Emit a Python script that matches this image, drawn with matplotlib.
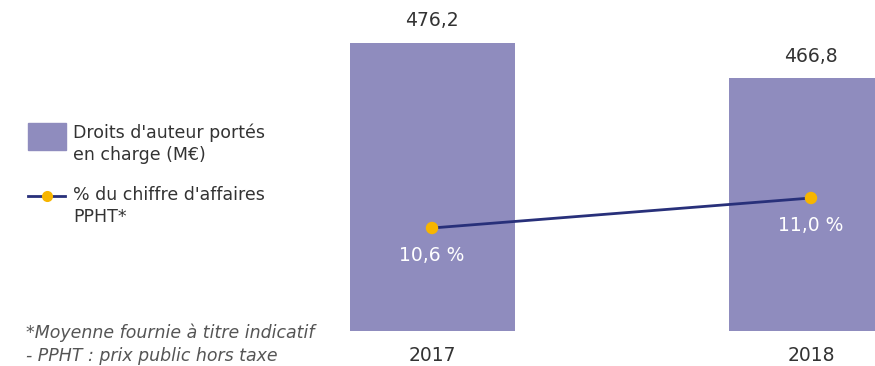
import matplotlib.pyplot as plt
from matplotlib.patches import Rectangle
from matplotlib.lines import Line2D

years = ["2017", "2018"]
droits = [476.2, 466.8]
pct_ca = [10.6, 11.0]
droits_labels = ["476,2", "466,8"]
pct_labels = ["10,6 %", "11,0 %"]

bar_color = "#8F8CBE"
line_color = "#28307A"
dot_color = "#F7B500"
text_color = "#333333"

plt.rcParams["font.family"] = ["DejaVu Sans"]

W, H = 875, 366
fig = plt.figure(figsize=(W / 100, H / 100), dpi=100)
ax = fig.add_axes([0, 0, 1, 1])

# pixel mapping: 2017 centre at x=432, 2018 at x=811
px_per_x = 811 - 432
ax.set_xlim(-432 / px_per_x, (W - 432) / px_per_x)
# bar axis: value 400 at 35 px from bottom, 3.78 px per unit
px_per_y = 3.78
ax.set_ylim(400 - 35 / px_per_y, 400 + (H - 35) / px_per_y)

x = range(len(years))
ax.bar(x, [v - 400 for v in droits], bottom=400, width=165 / px_per_x,
       color=bar_color, zorder=1)
for i, v in enumerate(droits):
    ax.annotate(droits_labels[i], (i, v), xytext=(0, 9), textcoords="offset points",
                ha="center", va="bottom", fontsize=13.5, color=text_color)
    ax.annotate(years[i], (i, 400), xytext=(0, -10.5), textcoords="offset points",
                ha="center", va="top", fontsize=13.5, color=text_color)
ax.axis("off")

ax2 = ax.twinx()
ax2.set_xlim(ax.get_xlim())
px_per_p = 75
ax2.set_ylim(10.6 - 138 / px_per_p, 10.6 + 228 / px_per_p)
ax2.plot(list(x), pct_ca, color=line_color, lw=2, zorder=2)
ax2.scatter(list(x), pct_ca, s=80, color=dot_color, zorder=3, edgecolors="none")
for i, v in enumerate(pct_ca):
    ax2.annotate(pct_labels[i], (i, v), xytext=(0, -13), textcoords="offset points",
                 ha="center", va="top", fontsize=13.5, color="white")
ax2.axis("off")

# legend drawn by hand
fig.patches.append(Rectangle((28 / W, 1 - 150 / H), 38 / W, 27 / H,
                             transform=fig.transFigure, color=bar_color))
fig.text(73 / W, 1 - 123 / H, "Droits d'auteur portés\nen charge (M€)",
         ha="left", va="top", fontsize=12.5, color=text_color, linespacing=1.35)
fig.lines.append(Line2D([28 / W, 65 / W], [1 - 196 / H, 1 - 196 / H],
                        transform=fig.transFigure, color=line_color, lw=2))
fig.lines.append(Line2D([47 / W], [1 - 196 / H], transform=fig.transFigure,
                        marker="o", ms=8, color=dot_color, mec="none"))
fig.text(73 / W, 1 - 186 / H, "% du chiffre d'affaires\nPPHT*",
         ha="left", va="top", fontsize=12.5, color=text_color, linespacing=1.25)

fig.text(26 / W, 1 - 324 / H, "*Moyenne fournie à titre indicatif\n- PPHT : prix public hors taxe",
         ha="left", va="top", fontsize=12.5, style="italic", color="#555555",
         linespacing=1.35)

fig.savefig("out.png", dpi=100)
